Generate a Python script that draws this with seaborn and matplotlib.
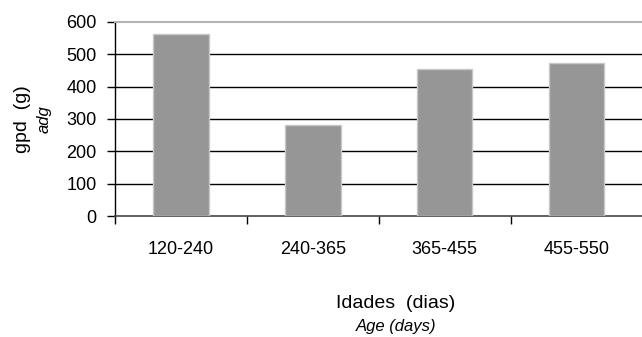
import matplotlib
matplotlib.use("Agg")
import matplotlib.pyplot as plt
import seaborn as sns
import pandas as pd
from matplotlib.ticker import FixedLocator

# data
categories = ["120-240", "240-365", "365-455", "455-550"]
gpd_values = [563, 282, 453, 472]
y_ticks = [0, 100, 200, 300, 400, 500, 600]

df = pd.DataFrame({"Idade": categories, "gpd": gpd_values})

sns.set_theme(style="white")
plt.rcParams['font.family'] = ['Liberation Sans', 'DejaVu Sans']
plt.rcParams['text.color'] = 'black'

fig = plt.figure(figsize=(6.42, 3.37), dpi=100)
ax = fig.add_axes([0.179, 0.359, 0.822, 0.576])

sns.barplot(data=df, x="Idade", y="gpd", color="#969696", width=0.42,
            edgecolor="#c8c8c8", linewidth=1.0, saturation=1, ax=ax, zorder=3)

ax.set_xlim(-0.5, 3.5)
ax.set_ylim(0, 600)
ax.set_yticks(y_ticks)
ax.set_yticklabels([str(t) for t in y_ticks], fontsize=13, color="black")
ax.tick_params(axis="y", left=True, direction="out", length=6, width=1, color="black", pad=7)

# x tick labels centred, tick marks at category boundaries
ax.tick_params(axis="x", which="major", bottom=False, length=0, labelsize=13, pad=18,
               labelcolor="black")
ax.xaxis.set_minor_locator(FixedLocator([-0.5, 0.5, 1.5, 2.5, 3.5]))
ax.tick_params(axis="x", which="minor", bottom=True, direction="out", length=6, width=1,
               color="black")

# grid lines
for t in y_ticks[1:-1]:
    ax.axhline(t, color="black", linewidth=1.0, zorder=1)

ax.spines["right"].set_visible(False)
ax.spines["top"].set_color("#b4b4b4")
ax.spines["top"].set_linewidth(1.5)
ax.spines["left"].set_color("black")
ax.spines["left"].set_linewidth(1.0)
ax.spines["bottom"].set_color("#444444")
ax.spines["bottom"].set_linewidth(1.2)

ax.set_xlabel("")
ax.set_ylabel("")

# axis titles
fig.text(23 / 642, 1 - 119 / 337, "gpd  (g)", rotation=90, ha="center", va="center", fontsize=14)
fig.text(44 / 642, 1 - 119 / 337, "adg", rotation=90, ha="center", va="center",
         fontsize=12, style="italic")
fig.text(396 / 642, 1 - 303 / 337, "Idades  (dias)", ha="center", va="center", fontsize=14)
fig.text(396 / 642, 1 - 327 / 337, "Age (days)", ha="center", va="center",
         fontsize=12, style="italic")

fig.savefig("out.png", dpi=100)
